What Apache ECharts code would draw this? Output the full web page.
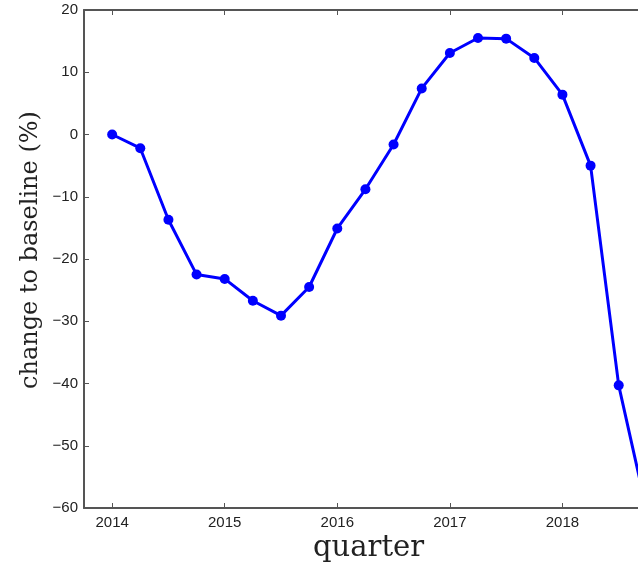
<!DOCTYPE html>
<html>
<head>
<meta charset="utf-8">
<script src="https://cdn.jsdelivr.net/npm/echarts@6/dist/echarts.min.js"></script>
<style>
  html, body { margin: 0; padding: 0; overflow: hidden; background: #fff; }
  #chart { width: 700px; height: 563px; }
</style>
</head>
<body>
<div id="chart"></div>
<script>
// Quarterly change relative to the 2014 baseline
const quarters = [
  2014.00, 2014.25, 2014.50, 2014.75,
  2015.00, 2015.25, 2015.50, 2015.75,
  2016.00, 2016.25, 2016.50, 2016.75,
  2017.00, 2017.25, 2017.50, 2017.75,
  2018.00, 2018.25, 2018.50, 2018.75
];
const changePct = [
  0.0, -2.2, -13.7, -22.5,
  -23.2, -26.7, -29.1, -24.5,
  -15.1, -8.8, -1.6, 7.4,
  13.1, 15.5, 15.4, 12.3,
  6.4, -5.0, -40.3, -60.5
];
const yearTicks = [2014, 2015, 2016, 2017, 2018];
const xLabel = 'quarter';
const yLabel = 'change to baseline (%)';

const points = quarters.map((q, i) => [q, changePct[i]]);

const axisColor = '#555';
const tickFont = { fontFamily: 'Liberation Sans', fontSize: 15, color: '#222' };

const chart = echarts.init(document.getElementById('chart'), null, { renderer: 'canvas' });
chart.setOption({
  animation: false,
  backgroundColor: '#fff',
  grid: { left: 84, top: 10, right: 25, bottom: 55, containLabel: false },
  xAxis: [
    {
      type: 'value', position: 'bottom', min: 2013.75, max: 2019,
      axisLine: { onZero: false, lineStyle: { color: axisColor, width: 2 } },
      axisTick: { show: true, inside: true, length: 5, customValues: yearTicks, lineStyle: { color: axisColor, width: 1 } },
      axisLabel: { show: true, customValues: yearTicks, formatter: v => String(Math.round(v)), margin: 7, ...tickFont },
      splitLine: { show: false }
    },
    {
      type: 'value', position: 'top', min: 2013.75, max: 2019,
      axisLine: { onZero: false, lineStyle: { color: axisColor, width: 2 } },
      axisTick: { show: true, inside: true, length: 5, customValues: yearTicks, lineStyle: { color: axisColor, width: 1 } },
      axisLabel: { show: false },
      splitLine: { show: false }
    }
  ],
  yAxis: [
    {
      type: 'value', position: 'left', min: -60, max: 20, interval: 10,
      axisLine: { show: true, onZero: false, lineStyle: { color: axisColor, width: 2 } },
      axisTick: { show: true, inside: true, length: 5, lineStyle: { color: axisColor, width: 1 } },
      axisLabel: { margin: 6, ...tickFont, formatter: v => v < 0 ? '\u2212' + Math.abs(v) : String(v) },
      splitLine: { show: false }
    },
    {
      type: 'value', position: 'right', min: -60, max: 20, interval: 10,
      axisLine: { show: true, onZero: false, lineStyle: { color: axisColor, width: 2 } },
      axisTick: { show: true, inside: true, length: 5, lineStyle: { color: axisColor, width: 1 } },
      axisLabel: { show: false },
      splitLine: { show: false }
    }
  ],
  graphic: [
    {
      type: 'text', left: 313, top: 534,
      style: { text: xLabel, font: '29px "DejaVu Serif"', fill: '#222' }
    },
    {
      type: 'text', x: 31, y: 389, rotation: Math.PI / 2,
      style: { text: yLabel, font: '24px "DejaVu Serif"', fill: '#222', textAlign: 'left', textVerticalAlign: 'middle' },
      originX: 0, originY: 0
    }
  ],
  series: [{
    type: 'line',
    xAxisIndex: 0, yAxisIndex: 0,
    data: points,
    clip: true,
    smooth: false,
    symbol: 'circle',
    symbolSize: 10,
    lineStyle: { color: '#0000ff', width: 3 },
    itemStyle: { color: '#0000ff' }
  }]
});
</script>
</body>
</html>
